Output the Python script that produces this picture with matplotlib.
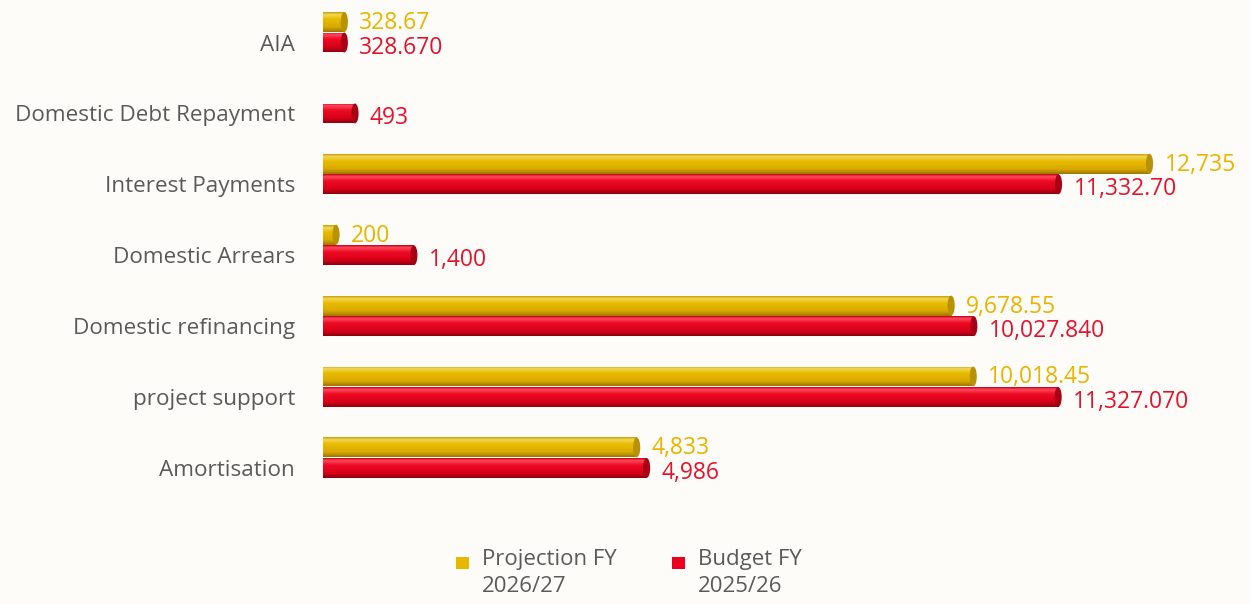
import matplotlib
matplotlib.use('Agg')
import matplotlib.pyplot as plt
import numpy as np
from matplotlib.patches import Ellipse, Rectangle
from matplotlib.colors import LinearSegmentedColormap

categories = ["AIA", "Domestic Debt Repayment", "Interest Payments", "Domestic Arrears",
              "Domestic refinancing", "project support", "Amortisation"]
projection = [328.67, None, 12735, 200, 9678.55, 10018.45, 4833]
budget = [328.670, 493, 11332.70, 1400, 10027.840, 11327.070, 4986]
proj_labels = ["328.67", "", "12,735", "200", "9,678.55", "10,018.45", "4,833"]
budget_labels = ["328.670", "493", "11,332.70", "1,400", "10,027.840", "11,327.070", "4,986"]
series_names = ["Projection FY\n2026/27", "Budget FY\n2025/26"]

BG = '#fdfcf8'
GOLD = '#e6b800'
RED = '#e8001c'
GOLD_TXT = '#e8b400'
RED_TXT = '#e4132d'
GRAY = '#5a5a5a'

plt.rcParams['font.family'] = ['Open Sans', 'DejaVu Sans']

fig = plt.figure(figsize=(12.5, 6.04), dpi=100, facecolor=BG)
ax = fig.add_axes([323/1250, 1-510/604, 908.6/1250, 510/604])
ax.set_facecolor(BG)

gold_cmap = LinearSegmentedColormap.from_list('g', [(0, '#c99f00'), (0.12, '#f3d65a'), (0.35, '#e8bc00'), (0.75, '#d9a900'), (1, '#9c7800')])
red_cmap = LinearSegmentedColormap.from_list('r', [(0, '#c8001a'), (0.12, '#ff4a5c'), (0.35, '#ee0a24'), (0.75, '#d80018'), (1, '#8e0010')])
cap_gold = '#b89200'
cap_red = '#a80014'

h = 0.28
off = 0.29
y = np.arange(len(categories))
grad = np.linspace(0, 1, 64).reshape(-1, 1)

def draw(vals, ys, color, cmap, cap):
    for v, yy in zip(vals, ys):
        if v is None:
            continue
        bars = ax.barh(yy, v, height=h, color=color, edgecolor='none', zorder=2)
        rect = bars.patches[0]
        im = ax.imshow(grad, extent=[0, v, yy + h/2, yy - h/2], aspect='auto', cmap=cmap, zorder=3)
        im.set_clip_path(rect)
        ax.add_patch(Ellipse((v, yy), width=110, height=h, facecolor=cap, edgecolor='none', zorder=4))

draw(projection, y - off, GOLD, gold_cmap, cap_gold)
draw(budget, y, RED, red_cmap, cap_red)

for v, yy, t in zip(projection, y - off, proj_labels):
    if v is None:
        continue
    ax.annotate(t, xy=(v, yy), xytext=(15, -1), textcoords='offset pixels', va='center', ha='left',
                color=GOLD_TXT, fontsize=16.5, zorder=5)
for v, yy, t in zip(budget, y, budget_labels):
    ax.annotate(t, xy=(v, yy), xytext=(15, -5), textcoords='offset pixels', va='center', ha='left',
                color=RED_TXT, fontsize=16.5, zorder=5)

ax.set_xlim(0, 14000)
ax.set_ylim(6.593, -0.6)
ax.set_yticks(y)
ax.set_yticklabels(categories, color=GRAY, fontsize=16.2)
ax.tick_params(axis='y', length=0, pad=20)
ax.set_xticks([])
for s in ax.spines.values():
    s.set_visible(False)

# legend
leg_items = [(456, GOLD, series_names[0]), (672, RED, series_names[1])]
for x0, c, name in leg_items:
    fig.add_artist(Rectangle((x0/1250, 1-569/604), 13/1250, 12/604, transform=fig.transFigure,
                             facecolor=c, edgecolor='none'))
    fig.text((x0 + 26)/1250, 1-549/604, name, va='top', ha='left', color=GRAY, fontsize=16,
             linespacing=1.35)

fig.savefig('out.png', dpi=100, facecolor=BG)
